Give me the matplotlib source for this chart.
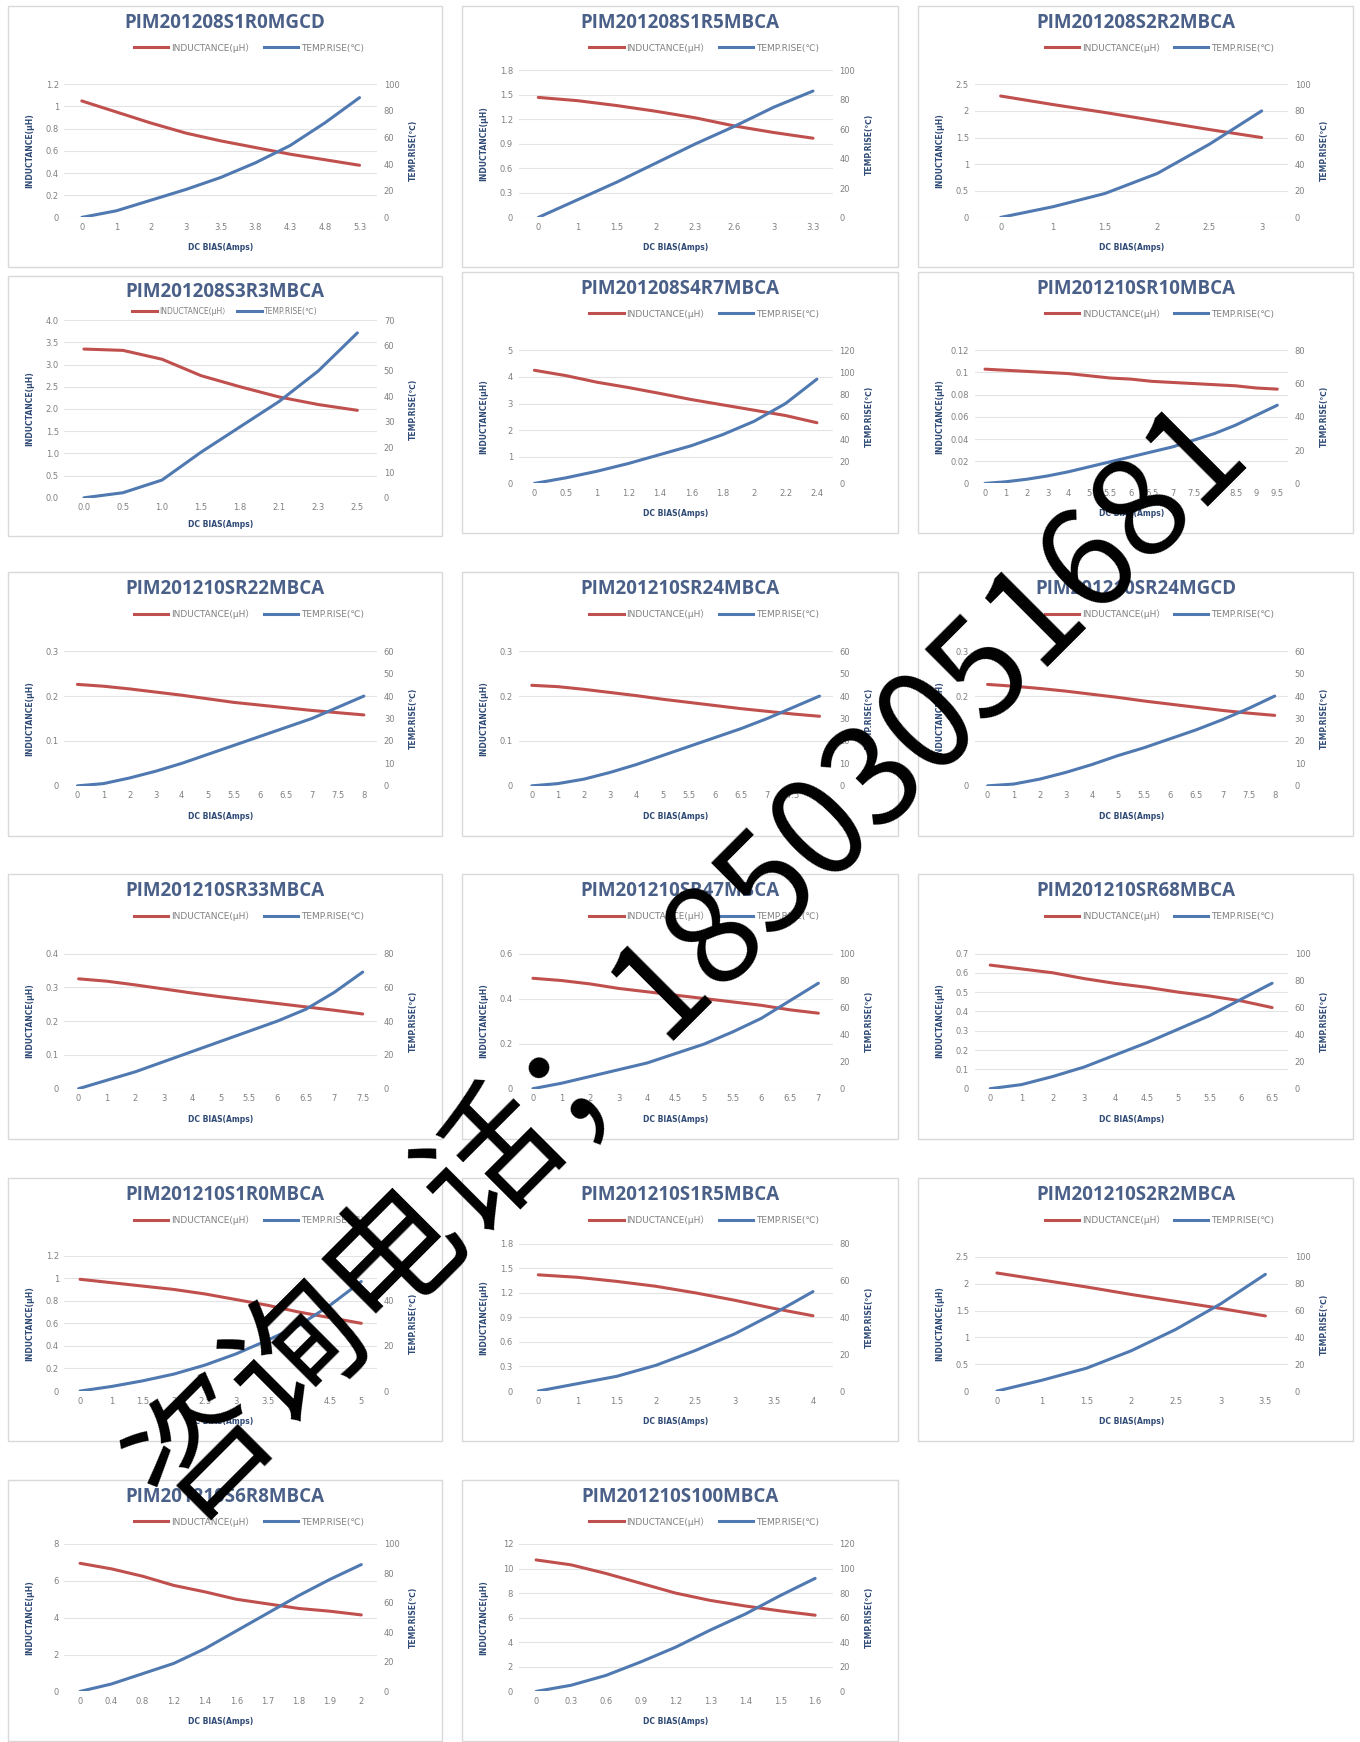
import numpy as np
import matplotlib

matplotlib.use("Agg")
import matplotlib.pyplot as plt
from matplotlib.lines import Line2D
from matplotlib.patches import Rectangle

# ---- data (x axis is categorical, like the Excel source) ----
TITLES = [
    "PIM201208S1R0MGCD", "PIM201208S1R5MBCA", "PIM201208S2R2MBCA",
    "PIM201208S3R3MBCA", "PIM201208S4R7MBCA", "PIM201210SR10MBCA",
    "PIM201210SR22MBCA", "PIM201210SR24MBCA", "PIM201210SR24MGCD",
    "PIM201210SR33MBCA", "PIM201210SR47MBCA", "PIM201210SR68MBCA",
    "PIM201210S1R0MBCA", "PIM201210S1R5MBCA", "PIM201210S2R2MBCA",
    "PIM201210S6R8MBCA", "PIM201210S100MBCA",
]

DC_BIAS = [
    ["0", "1", "2", "3", "3.5", "3.8", "4.3", "4.8", "5.3"],
    ["0", "1", "1.5", "2", "2.3", "2.6", "3", "3.3"],
    ["0", "1", "1.5", "2", "2.5", "3"],
    ["0.0", "0.5", "1.0", "1.5", "1.8", "2.1", "2.3", "2.5"],
    ["0", "0.5", "1", "1.2", "1.4", "1.6", "1.8", "2", "2.2", "2.4"],
    ["0", "1", "2", "3", "4", "5", "5.5", "6", "6.5", "7", "7.5", "8", "8.5", "9", "9.5"],
    ["0", "1", "2", "3", "4", "5", "5.5", "6", "6.5", "7", "7.5", "8"],
    ["0", "1", "2", "3", "4", "5", "5.5", "6", "6.5", "7", "7.5", "8"],
    ["0", "1", "2", "3", "4", "5", "5.5", "6", "6.5", "7", "7.5", "8"],
    ["0", "1", "2", "3", "4", "5", "5.5", "6", "6.5", "7", "7.5"],
    ["0", "1", "2", "3", "4", "4.5", "5", "5.5", "6", "6.5", "7"],
    ["0", "1", "2", "3", "4", "4.5", "5", "5.5", "6", "6.5"],
    ["0", "1", "1.5", "2", "2.5", "3", "3.5", "4", "4.5", "5"],
    ["0", "1", "1.5", "2", "2.5", "3", "3.5", "4"],
    ["0", "1", "1.5", "2", "2.5", "3", "3.5"],
    ["0", "0.4", "0.8", "1.2", "1.4", "1.6", "1.7", "1.8", "1.9", "2"],
    ["0", "0.3", "0.6", "0.9", "1.2", "1.3", "1.4", "1.5", "1.6"],
]

INDUCTANCE = [
    [1.05, 0.95, 0.85, 0.76, 0.69, 0.63, 0.57, 0.52, 0.47],
    [1.47, 1.43, 1.37, 1.30, 1.22, 1.12, 1.04, 0.97],
    [2.28, 2.12, 1.97, 1.81, 1.65, 1.50],
    [3.35, 3.32, 3.12, 2.75, 2.50, 2.27, 2.10, 1.97],
    [4.25, 4.05, 3.80, 3.60, 3.38, 3.15, 2.95, 2.75, 2.55, 2.28],
    [0.103, 0.102, 0.101, 0.100, 0.099, 0.097, 0.095, 0.094, 0.092, 0.091,
     0.090, 0.089, 0.088, 0.086, 0.085],
    [0.226, 0.222, 0.216, 0.209, 0.202, 0.194, 0.186, 0.180, 0.174, 0.168, 0.163, 0.158],
    [0.224, 0.221, 0.215, 0.208, 0.201, 0.193, 0.186, 0.179, 0.172, 0.166, 0.160, 0.155],
    [0.226, 0.222, 0.217, 0.211, 0.204, 0.197, 0.189, 0.182, 0.175, 0.168, 0.162, 0.157],
    [0.325, 0.318, 0.307, 0.295, 0.283, 0.272, 0.262, 0.252, 0.242, 0.232, 0.221],
    [0.49, 0.48, 0.465, 0.445, 0.43, 0.415, 0.40, 0.385, 0.37, 0.35, 0.335],
    [0.64, 0.62, 0.60, 0.57, 0.545, 0.525, 0.50, 0.48, 0.455, 0.42],
    [0.99, 0.96, 0.93, 0.90, 0.86, 0.81, 0.76, 0.70, 0.65, 0.60],
    [1.42, 1.39, 1.34, 1.28, 1.20, 1.11, 1.01, 0.92],
    [2.20, 2.07, 1.94, 1.80, 1.67, 1.54, 1.40],
    [6.95, 6.65, 6.25, 5.75, 5.40, 5.00, 4.75, 4.50, 4.35, 4.15],
    [10.7, 10.3, 9.6, 8.8, 8.0, 7.4, 6.95, 6.55, 6.2],
]

TEMP_RISE = [
    [0, 5, 13, 21, 30, 41, 54, 71, 90],
    [0, 12, 24, 37, 50, 62, 75, 86],
    [0, 8, 18, 33, 55, 80],
    [0, 2, 7, 18, 28, 38, 50, 65],
    [0, 5, 11, 18, 26, 34, 44, 56, 72, 94],
    [0, 1, 2.5, 4.5, 7, 10, 13, 16, 19, 22, 26, 30, 35, 41, 47],
    [0, 1, 3.5, 6.5, 10, 14, 18, 22, 26, 30, 35, 40],
    [0, 1, 3, 6, 9.5, 13.5, 17.5, 21.5, 25.5, 30, 35, 40],
    [0, 0.8, 3, 6, 9.5, 13.5, 17, 21, 25, 29.5, 34.5, 40],
    [0, 5, 10, 16, 22, 28, 34, 40, 47, 57, 69],
    [0, 4, 9, 14, 19, 26, 33, 42, 52, 65, 78],
    [0, 3, 9, 16, 25, 34, 44, 54, 66, 78],
    [0, 2, 4.5, 7.5, 11.5, 16.5, 22.5, 29, 38, 48.5],
    [0, 4, 8, 14, 22, 31, 42, 54],
    [0, 8, 17, 30, 46, 65, 87],
    [0, 5, 12, 19, 29, 41, 53, 65, 76, 86],
    [0, 5, 13, 24, 36, 50, 63, 78, 92],
]

# axis ranges: (max, step)
LEFT_AXIS = [(1.2, 0.2), (1.8, 0.3), (2.5, 0.5), (4.0, 0.5), (5, 1), (0.12, 0.02),
             (0.3, 0.1), (0.3, 0.1), (0.3, 0.1), (0.4, 0.1), (0.6, 0.2), (0.7, 0.1),
             (1.2, 0.2), (1.8, 0.3), (2.5, 0.5), (8, 2), (12, 2)]
RIGHT_AXIS = [(100, 20), (100, 20), (100, 20), (70, 10), (120, 20), (80, 20),
              (60, 10), (60, 10), (60, 10), (80, 20), (100, 20), (100, 20),
              (60, 20), (80, 20), (100, 20), (100, 20), (120, 20)]
ONE_DECIMAL = {3}

# ---- layout (pixels of the 1360x1742 canvas) ----
W, H = 1360, 1742
COL_X = [(8, 442), (462, 898), (918, 1353)]
ROW_Y = [(6, 267), (272, 533), (572, 836), (874, 1139), (1178, 1441), (1480, 1741)]
PLOT_TOP = [0.30, 0.247, 0.30, 0.17, 0.30, 0.30, 0.30, 0.30, 0.30,
            0.30, 0.30, 0.30, 0.295, 0.25, 0.30, 0.245, 0.245]

RED = "#c0504d"
BLUE = "#4f79b0"
TITLE_C = "#4a6088"
LABEL_C = "#2f4a75"
TICK_C = "#808080"
FAM = ["DejaVu Sans", "Noto Sans CJK SC"]


def fmt(v, one_dec):
    return f"{v:.1f}" if one_dec else f"{round(v, 4):g}"


def fx(px):
    return px / W


def fy(py):
    return 1 - py / H


fig = plt.figure(figsize=(13.6, 17.42), dpi=100)
fig.patch.set_facecolor("white")

for i, title in enumerate(TITLES):
    r, c = divmod(i, 3)
    x0, x1 = COL_X[c]
    y0, y1 = ROW_Y[r]
    compact = i == 3
    if compact:
        y0, y1 = 276, 536
    bw, bh = x1 - x0, y1 - y0
    fig.add_artist(Rectangle((fx(x0), fy(y1)), bw / W, bh / H, transform=fig.transFigure,
                             fill=False, ec="#d9d9d9", lw=1))

    bot = 0.853 if compact else 0.81
    al, ar = x0 + 0.13 * bw, x0 + 0.85 * bw
    at, ab = y0 + PLOT_TOP[i] * bh, y0 + bot * bh
    ax = fig.add_axes([fx(al), fy(ab), (ar - al) / W, (ab - at) / H])

    n = len(DC_BIAS[i])
    idx = np.arange(n)
    lmax, lstep = LEFT_AXIS[i]
    rmax, rstep = RIGHT_AXIS[i]

    ax.plot(idx, INDUCTANCE[i], color=RED, lw=2.2, solid_capstyle="round", zorder=3)
    ax.set_xlim(-0.5, n - 0.5)
    ax.set_ylim(0, lmax)
    lt = np.arange(0, lmax + lstep / 2, lstep)
    ax.set_yticks(lt)
    ax.set_yticklabels([fmt(v, i in ONE_DECIMAL) for v in lt])
    ax.set_xticks(idx)
    ax.set_xticklabels(DC_BIAS[i])
    ax.grid(axis="y", color="#e3e3e3", lw=0.8)
    ax.set_axisbelow(True)
    for s in ax.spines.values():
        s.set_visible(False)
    ax.tick_params(length=0, labelsize=6, labelcolor=TICK_C, pad=4)

    ax2 = ax.twinx()
    ax2.plot(idx, TEMP_RISE[i], color=BLUE, lw=2.2, solid_capstyle="round", zorder=3)
    ax2.set_ylim(0, rmax)
    rt = np.arange(0, rmax + rstep / 2, rstep)
    ax2.set_yticks(rt)
    ax2.set_yticklabels([f"{v:g}" for v in rt])
    for s in ax2.spines.values():
        s.set_visible(False)
    ax2.tick_params(length=0, labelsize=6, labelcolor=TICK_C, pad=5)

    cx = x0 + bw / 2
    title_y = y0 + (0.06 if compact else 0.065) * bh
    fig.text(fx(cx), fy(title_y), title, ha="center", va="center", fontsize=13.5,
             fontweight="bold", color=TITLE_C, family="Open Sans")

    leg_y = y0 + (0.135 if compact else 0.16) * bh
    leg_x = cx if compact else cx + 0.055 * bw
    handles = [Line2D([], [], color=RED, lw=2.2), Line2D([], [], color=BLUE, lw=2.2)]
    fig.legend(handles, ["INDUCTANCE(μH）", "TEMP.RISE(℃)"], loc="center",
               bbox_to_anchor=(fx(leg_x), fy(leg_y)), ncol=2, frameon=False,
               handlelength=3.8 if not compact else 3.2, handletextpad=0.3,
               columnspacing=1.0, labelcolor=TICK_C,
               prop={"family": FAM, "size": 5.5 if compact else 6.5})

    mid_y = (at + ab) / 2
    fig.text(fx(x0 + 0.05 * bw), fy(mid_y), "INDUCTANCE(μH)", rotation=90, ha="center",
             va="center", fontsize=5.5, fontweight="bold", color=LABEL_C, family=FAM)
    fig.text(fx(x0 + 0.935 * bw), fy(mid_y), "TEMP.RISE(℃)", rotation=90, ha="center",
             va="center", fontsize=5.5, fontweight="bold", color=LABEL_C, family=FAM)
    xl_y = y0 + (0.955 if compact else 0.925) * bh
    fig.text(fx((al + ar) / 2), fy(xl_y), "DC BIAS(Amps)", ha="center", va="center",
             fontsize=5.5, fontweight="bold", color=LABEL_C, family=FAM)

# watermark across the sheet
fig.text(0.507, 0.447, "咨询电话；18503051681", rotation=45, rotation_mode="anchor",
         ha="center", va="center", fontsize=98, color="black",
         family=["Noto Sans CJK SC", "DejaVu Sans"], zorder=20)

fig.savefig("out.png", dpi=100, facecolor="white")
